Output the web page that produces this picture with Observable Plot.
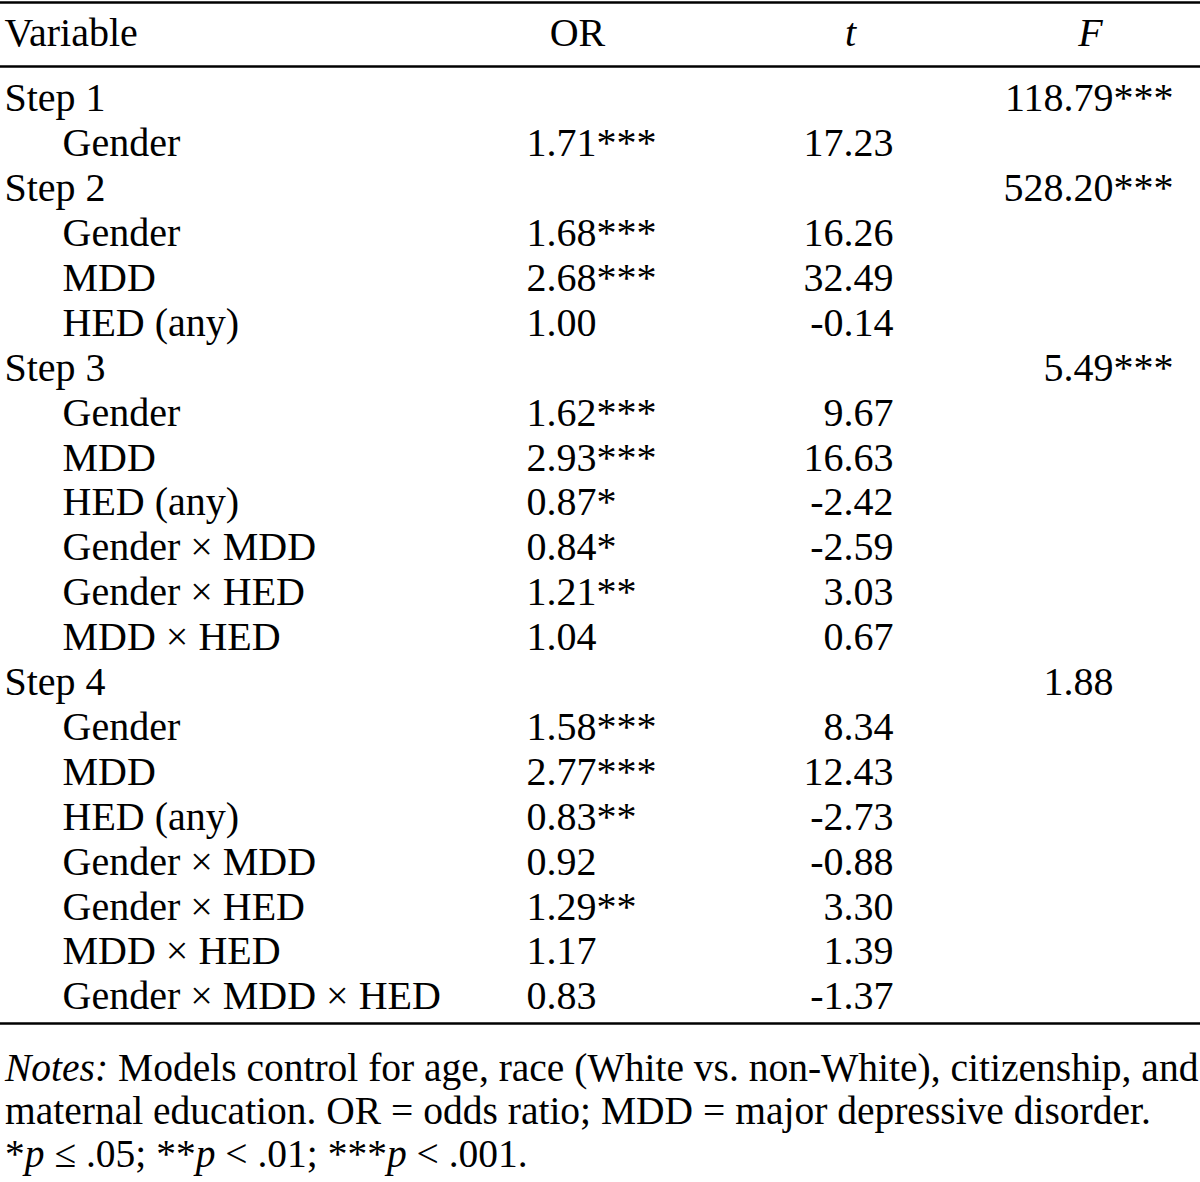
<!DOCTYPE html>
<html><head><meta charset="utf-8">
<script src="https://cdn.jsdelivr.net/npm/d3@7"></script>
<script src="https://cdn.jsdelivr.net/npm/@observablehq/plot@0.6"></script>
<style>
body{margin:0;background:#fff;}
#notes{font-family:"Liberation Serif","Times New Roman",serif;font-size:39.5px;line-height:43px;color:#000;padding-left:5px;white-space:nowrap;margin-top:7px;}
</style>
</head><body>
<div id="chart"></div>
<div id="notes"><i>Notes:</i> Models control for age, race (White vs. non-White), citizenship, and<br>maternal education. OR = odds ratio; MDD = major depressive disorder.<br>*<i>p</i> ≤ .05; **<i>p</i> &lt; .01; ***<i>p</i> &lt; .001.</div>
<script>
const headers = ["Variable", "OR", "t", "F"];
const variables = ["Step 1","Gender","Step 2","Gender","MDD","HED (any)","Step 3","Gender","MDD","HED (any)","Gender × MDD","Gender × HED","MDD × HED","Step 4","Gender","MDD","HED (any)","Gender × MDD","Gender × HED","MDD × HED","Gender × MDD × HED"];
const orValues = [null,1.71,null,1.68,2.68,1.00,null,1.62,2.93,0.87,0.84,1.21,1.04,null,1.58,2.77,0.83,0.92,1.29,1.17,0.83];
const orStars = ["","***","","***","***","","","***","***","*","*","**","","","***","***","**","","**","",""];
const tValues = [null,17.23,null,16.26,32.49,-0.14,null,9.67,16.63,-2.42,-2.59,3.03,0.67,null,8.34,12.43,-2.73,-0.88,3.30,1.39,-1.37];
const fValues = [118.79,null,528.20,null,null,null,5.49,null,null,null,null,null,null,1.88,null,null,null,null,null,null,null];
const fStars = ["***","","***","","","","***","","","","","","","","","","","","","",""];

// layout
const col = {variable: 4, indent: 62, or: 526, orHead: 577, t: 893, tHead: 850, f: 1113, fHead: 1090};
const headerRow = -1.45;
const ruleRows = [-2.14, -0.71, 20.6];

const rows = variables.map((v, i) => ({
  i, v, step: v.startsWith("Step"),
  or: orValues[i] == null ? "" : orValues[i].toFixed(2) + orStars[i],
  t: tValues[i] == null ? "" : tValues[i].toFixed(2),
  f: fValues[i] == null ? "" : fValues[i].toFixed(2),
  fs: fStars[i]
}));

const font = "Liberation Serif, Times New Roman, serif";
const fs = 40;
const plot = Plot.plot({
  width: 1200, height: 1040, margin: 0,
  x: {type: "linear", domain: [0, 1200], range: [0, 1200], axis: null},
  y: {type: "linear", domain: [0, 20], range: [98, 996], axis: null},
  style: {fontFamily: font, background: "#fff", color: "#000"},
  marks: [
    Plot.ruleY(ruleRows, {y: d => d, stroke: "#000", strokeWidth: 2.5}),
    Plot.text([headers[0]], {x: () => col.variable, y: () => headerRow, text: d => d, textAnchor: "start", fontSize: fs, fill: "#000"}),
    Plot.text([headers[1]], {x: () => col.orHead, y: () => headerRow, text: d => d, textAnchor: "middle", fontSize: fs, fill: "#000"}),
    Plot.text([headers[2]], {x: () => col.tHead, y: () => headerRow, text: d => d, textAnchor: "middle", fontSize: fs, fontStyle: "italic", fill: "#000"}),
    Plot.text([headers[3]], {x: () => col.fHead, y: () => headerRow, text: d => d, textAnchor: "middle", fontSize: fs, fontStyle: "italic", fill: "#000"}),
    Plot.text(rows, {x: d => d.step ? col.variable : col.indent, y: "i", text: "v", textAnchor: "start", fontSize: fs, fill: "#000"}),
    Plot.text(rows, {x: () => col.or, y: "i", text: "or", textAnchor: "start", fontSize: fs, fill: "#000"}),
    Plot.text(rows, {x: () => col.t, y: "i", text: "t", textAnchor: "end", fontSize: fs, fill: "#000"}),
    Plot.text(rows, {x: () => col.f, y: "i", text: "f", textAnchor: "end", fontSize: fs, fill: "#000"}),
    Plot.text(rows, {x: () => col.f, y: "i", text: "fs", textAnchor: "start", fontSize: fs, fill: "#000"})
  ]
});
document.getElementById("chart").appendChild(plot);
</script>
</body></html>
